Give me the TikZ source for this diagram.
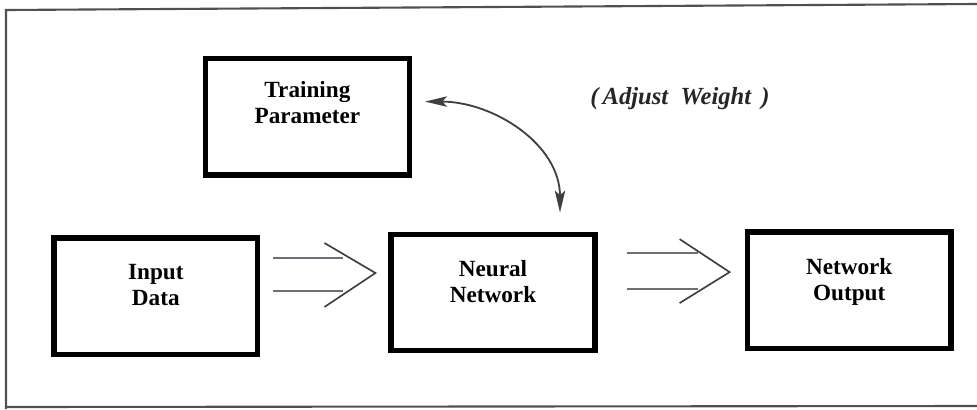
\documentclass[tikz,border=0pt]{standalone}
\usepackage{fontspec}
\setmainfont{Liberation Serif}
\usetikzlibrary{arrows.meta,positioning,calc}
\definecolor{framec}{HTML}{505050}
\definecolor{shaftc}{HTML}{6E6E78}

\begin{document}
\begin{tikzpicture}[x=0.025cm, y=-0.025cm,
  blk/.style={draw, line width=3.9pt, minimum width=5.09cm, minimum height=2.91cm,
    align=center, font=\bfseries\fontsize{16.5}{18.5}\selectfont, text depth=0.55cm},
  shaft/.style={shaftc, line width=1.5pt},
  barb/.style={black!75, line width=1.2pt},
  arr/.style={{Stealth[length=0.55cm, width=0.26cm, inset=0.12cm]}-{Stealth[length=0.55cm, width=0.26cm, inset=0.12cm]},
    line width=1.3pt, black!75},
  frame/.style={framec, line width=1.5pt}
]
  \useasboundingbox (0,0) rectangle (977,409);
  \draw[frame] (977,4) -- (6,10) -- (6,409);
  \draw[frame] (6,407) -- (977,406);

  \node[blk] (nn) at (493,292.5) {Neural\\Network};
  \node[blk, left=3.2cm of nn, yshift=-0.09cm] (in) {Input\\Data};
  \node[blk, right=3.675cm of nn, yshift=0.06cm] (out) {Network\\Output};
  \node[blk, above=1.35cm of nn, xshift=-4.6375cm, text depth=0.7cm] (train) {Training\\Parameter};
  \node[font=\bfseries\itshape\fontsize{17.5}{19}\selectfont, black!85] (adj) at (680,99) {(\,Adjust\ \ Weight\ \,)};

  % weight adjustment loop
  \coordinate (cwA) at ($(train.east)+(13,-15)$);
  \coordinate (cwB) at ($(nn.north)+(67,-19)$);
  \draw[arr] (cwA) to[out=0, in=90] (cwB);

  % data into the network
  \draw[shaft] ($(in.east)+(13,-38)$) -- ++(70,0);
  \draw[shaft] ($(in.east)+(13,-5)$) -- ++(70,0);
  \draw[barb] ($(nn.west)+(-64,-49.5)$) -- ($(nn.west)+(-13,-19.5)$) -- ($(nn.west)+(-64,14.5)$);

  % network to output
  \draw[shaft] ($(nn.east)+(29,-39.5)$) -- ++(71,0);
  \draw[shaft] ($(nn.east)+(29,-3.5)$) -- ++(71,0);
  \draw[barb] ($(out.west)+(-65,-51)$) -- ($(out.west)+(-15,-18)$) -- ($(out.west)+(-65,13)$);
\end{tikzpicture}
\end{document}
